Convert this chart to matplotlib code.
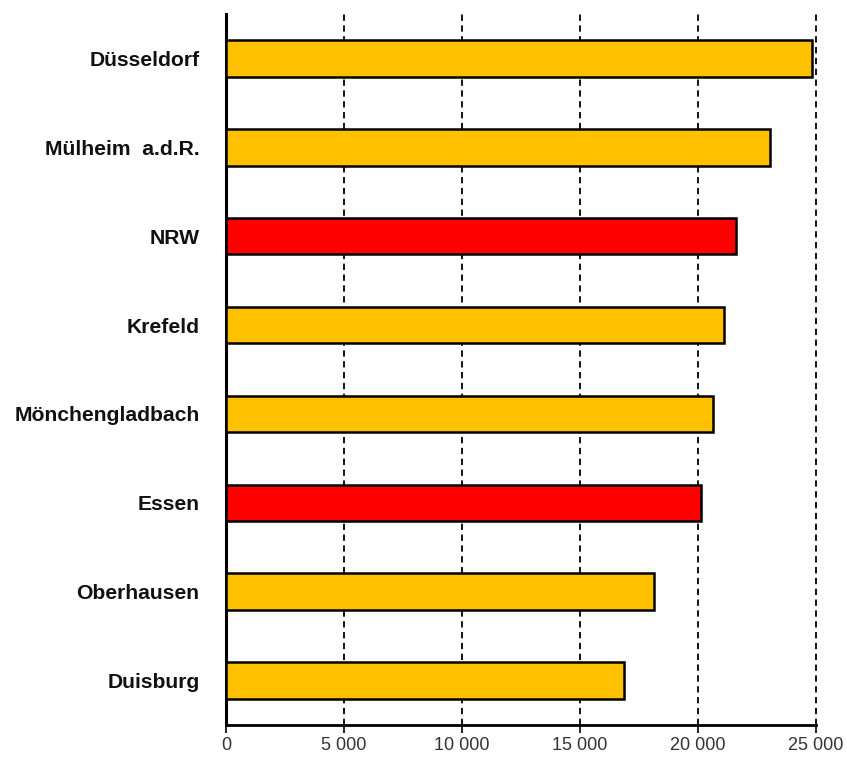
import matplotlib
matplotlib.use("Agg")
import matplotlib.pyplot as plt
from matplotlib.ticker import FuncFormatter

categories = ["Düsseldorf", "Mülheim  a.d.R.", "NRW", "Krefeld",
              "Mönchengladbach", "Essen", "Oberhausen", "Duisburg"]
values = [24850, 23050, 21620, 21100, 20640, 20130, 18140, 16860]
highlight = [False, False, True, False, False, True, False, False]
xticks = [0, 5000, 10000, 15000, 20000, 25000]

plt.rcParams['font.family'] = ['Liberation Sans', 'DejaVu Sans']

fig = plt.figure(figsize=(8.47, 7.61), dpi=100)
ax = fig.add_axes([226/847, 36/761, (816-226)/847, (725-14)/761])

colors = ["#FF0000" if h else "#FFC000" for h in highlight]
ypos = list(range(len(categories)))
ax.barh(ypos, values, height=0.41, color=colors, edgecolor="black",
        linewidth=1.8, zorder=3)

ax.set_ylim(len(categories) - 0.5, -0.5)
ax.set_xlim(0, 25000)
ax.set_yticks(ypos)
ax.set_yticklabels(categories, fontsize=15.2, fontweight="bold", color="#111111")
ax.tick_params(axis="y", length=0, pad=19)

ax.set_xticks(xticks)
ax.xaxis.set_major_formatter(FuncFormatter(lambda v, p: f"{int(v):,}".replace(",", " ")))
ax.tick_params(axis="x", length=6, width=1.2, labelsize=13, labelcolor="#333333",
               direction="out", pad=3)

for x in xticks[1:]:
    ax.axvline(x, color="black", linestyle=(0, (3.5, 2.5)), linewidth=1.3,
               zorder=1, clip_on=False)

for s in ["top", "right"]:
    ax.spines[s].set_visible(False)
ax.spines["left"].set_linewidth(2.2)
ax.spines["bottom"].set_linewidth(2.0)

fig.savefig("out.png", dpi=100, facecolor="white")
